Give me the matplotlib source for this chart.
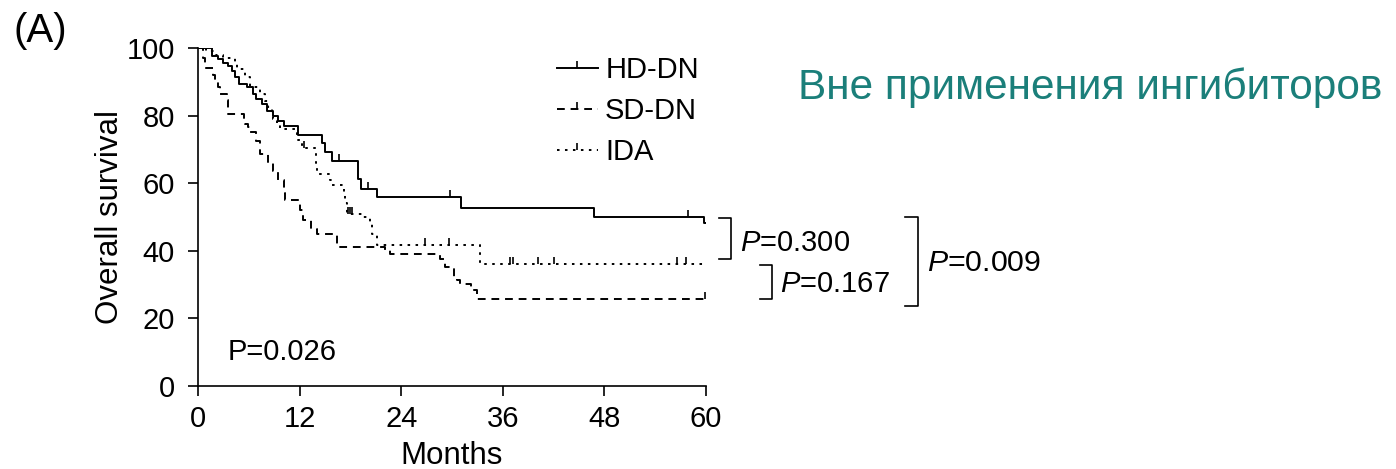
import matplotlib
matplotlib.use('Agg')
import matplotlib.pyplot as plt
from matplotlib.lines import Line2D

plt.rcParams['font.family'] = ['Liberation Sans', 'DejaVu Sans']
plt.rcParams['mathtext.fontset'] = 'custom'
plt.rcParams['mathtext.rm'] = 'Liberation Sans'
plt.rcParams['mathtext.it'] = 'Liberation Sans:italic'

# Kaplan-Meier steps (months, survival %)
hd_t = [0, 1.7, 2.4, 3.0, 3.6, 4.0, 4.4, 4.8, 5.8, 6.5, 6.9, 7.5, 8.1, 8.9, 9.5,
        10.1, 11.8, 14.6, 15.0, 15.8, 18.9, 19.3, 21.1, 31.1, 46.8, 59.8, 60]
hd_s = [100, 97.7, 96.7, 95.5, 94.8, 93.3, 91.3, 89.3, 88.4, 86.4, 84.9, 83.4, 81.4,
        79.9, 78.5, 77.0, 74.2, 71.8, 69.3, 66.6, 61.1, 58.4, 55.8, 52.8, 49.9, 48.2, 48.2]
hd_cens_t = [0.5, 1.0, 16.6, 20.1, 29.8, 57.9]
hd_cens_s = [100, 100, 66.6, 58.4, 55.8, 49.9]

sd_t = [0, 0.6, 0.8, 1.8, 2.0, 2.4, 2.6, 3.4, 3.6, 5.4, 5.6, 5.9, 6.1, 6.9, 7.3, 8.3,
        8.9, 9.5, 10.1, 10.3, 12.1, 12.4, 13.4, 14.0, 16.4, 16.8, 22.1, 22.7, 28.6,
        29.0, 29.2, 30.2, 30.6, 31.0, 32.2, 32.9, 60]
sd_s = [100, 97, 94, 92, 90.5, 88.5, 86.5, 84.5, 80.5, 79, 77.5, 76.5, 75, 72.5, 68.5,
        66, 63.5, 61, 57, 55, 52, 49, 46.5, 45, 42, 41, 40.1, 39.2, 37.7, 36.7, 35.2,
        32.2, 31.3, 30.3, 28.3, 25.8, 25.8]
sd_cens_t = [59.9]
sd_cens_s = [25.8]

ida_t = [0, 1.0, 2.0, 3.0, 4.4, 4.6, 5.6, 6.1, 7.3, 7.9, 8.3, 8.7, 8.9, 9.3, 9.7,
         11.7, 12.3, 13.9, 14.1, 15.6, 15.8, 17.2, 17.4, 17.6, 19.5, 20.3, 20.5,
         21.1, 33.3, 60]
ida_s = [100, 99, 98, 97, 95.3, 93.8, 91.5, 88.4, 86.4, 84.4, 82.4, 80.4, 79, 77.5,
         76, 72.7, 70.3, 66, 62.8, 60.9, 59.4, 56.4, 54.0, 51.0, 50.0, 48.0, 45.1,
         41.6, 36.2, 36.2]
ida_cens_t = [12.5, 17.7, 17.9, 18.2, 26.8, 29.7, 36.9, 37.2, 40.2, 42.0, 56.6, 57.6]
ida_cens_s = [70.3, 51.0, 51.0, 51.0, 41.6, 41.6, 36.2, 36.2, 36.2, 36.2, 36.2, 36.2]

labels = ['HD-DN', 'SD-DN', 'IDA']
x_ticks = [0, 12, 24, 36, 48, 60]
y_ticks = [0, 20, 40, 60, 80, 100]

W, H = 1396, 469
fs = 21
fig = plt.figure(figsize=(W / 100, H / 100), dpi=100)
ax = fig.add_axes([198 / W, 1 - 386 / H, (706 - 198) / W, (386 - 48) / H])

lw = 1.4
styles = ['-', (0, (4, 3)), (0, (1.3, 2.8))]
series = [(hd_t, hd_s, hd_cens_t, hd_cens_s),
          (sd_t, sd_s, sd_cens_t, sd_cens_s),
          (ida_t, ida_s, ida_cens_t, ida_cens_s)]
for (t, s, ct, cs), ls in zip(series, styles):
    ax.step(t, s, where='post', color='black', lw=lw, linestyle=ls)
    ax.plot(ct, cs, linestyle='none', marker=2, ms=5, mew=1.2, color='black')

ax.set_xlim(0, 60)
ax.set_ylim(0, 100)
ax.set_xticks(x_ticks)
ax.set_yticks(y_ticks)
ax.spines['top'].set_visible(False)
ax.spines['right'].set_visible(False)
for sp in ['left', 'bottom']:
    ax.spines[sp].set_linewidth(1.2)
ax.tick_params(direction='out', length=7.5, width=1.2, labelsize=fs)
ax.tick_params(axis='x', pad=6)
ax.tick_params(axis='y', pad=9)
ax.set_xlabel('Months', fontsize=22.5, labelpad=6)
ax.set_ylabel('Overall survival', fontsize=22.5, labelpad=1)

handles = [Line2D([], [], color='black', lw=lw, linestyle=ls, marker=2, ms=5, mew=1.2)
           for ls in styles]
ax.legend(handles, labels, loc='upper left', bbox_to_anchor=(557 / W, 1 - 56 / H),
          bbox_transform=fig.transFigure, frameon=False, fontsize=fs,
          handlelength=1.4, handletextpad=0.25, labelspacing=0.45, numpoints=1,
          borderaxespad=0, borderpad=0)

ax.text(3.5, 10, 'P=0.026', fontsize=fs, va='center', ha='left')

fig.text(13 / W, 1 - 31 / H, '(A)', fontsize=29, va='center', ha='left')
fig.text(798 / W, 1 - 88 / H, 'Вне применения ингибиторов', fontsize=30.5,
         color='#1b7f7a', va='center', ha='left')


def bracket(x, y0, y1, x_left):
    fx = lambda v: v / W
    fy = lambda v: 1 - v / H
    fig.add_artist(Line2D([fx(x_left), fx(x), fx(x), fx(x_left)],
                          [fy(y0), fy(y0), fy(y1), fy(y1)],
                          color='black', lw=1.2, transform=fig.transFigure))


bracket(731, 218, 259, 719)
bracket(772, 265, 299, 760)
bracket(918, 217, 306, 905)
fig.text(740 / W, 1 - 243 / H, r'$P$=0.300', fontsize=fs, va='center', ha='left')
fig.text(780 / W, 1 - 284 / H, r'$P$=0.167', fontsize=fs, va='center', ha='left')
fig.text(927 / W, 1 - 263 / H, r'$P$=0.009', fontsize=21.8, va='center', ha='left')

fig.savefig('out.png', dpi=100)
